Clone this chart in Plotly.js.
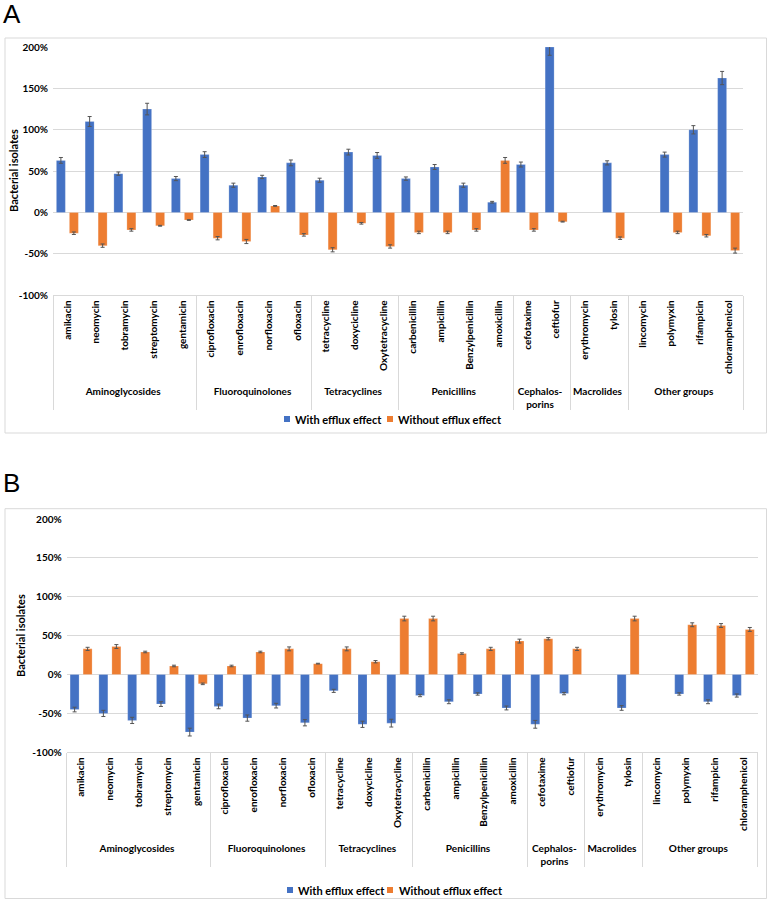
<!DOCTYPE html>
<html>
<head>
<meta charset="utf-8">
<script src="https://cdn.plot.ly/plotly-3.0.1.min.js"></script>
<style>
  html, body { margin: 0; padding: 0; background: #ffffff; }
  #chart { width: 768px; height: 899px; }
</style>
</head>
<body>
<div id="chart"></div>
<script>
// Antibiotic classes and drugs (one group entry per drug)
const drugs = [
  'amikacin', 'neomycin', 'tobramycin', 'streptomycin', 'gentamicin',
  'ciprofloxacin', 'enrofloxacin', 'norfloxacin', 'ofloxacin',
  'tetracycline', 'doxycicline', 'Oxytetracycline',
  'carbenicillin', 'ampicillin', 'Benzylpenicillin', 'amoxicillin',
  'cefotaxime', 'ceftiofur',
  'erythromycin', 'tylosin',
  'lincomycin', 'polymyxin', 'rifampicin', 'chloramphenicol'
];
const drugGroups = [
  'Aminoglycosides', 'Aminoglycosides', 'Aminoglycosides', 'Aminoglycosides', 'Aminoglycosides',
  'Fluoroquinolones', 'Fluoroquinolones', 'Fluoroquinolones', 'Fluoroquinolones',
  'Tetracyclines', 'Tetracyclines', 'Tetracyclines',
  'Penicillins', 'Penicillins', 'Penicillins', 'Penicillins',
  'Cephalos-<br>porins', 'Cephalos-<br>porins',
  'Macrolides', 'Macrolides',
  'Other groups', 'Other groups', 'Other groups', 'Other groups'
];

// Panel A values (%); null = no bar
const aWith = [63, 110, 47, 125, 41, 70, 33, 43, 60, 39, 73, 69, 41, 55, 33, 12.5, 58, 200, null, 60, null, 70, 100, 162.5];
const aWithErr = [3.5, 6, 2, 7, 2.5, 3.5, 2.5, 2, 3.5, 2.5, 3.5, 3.5, 2, 3, 2.5, 1, 3, 10, null, 2.5, null, 3, 5, 8];
const aWithout = [-25, -40, -21, -16, -9, -31, -35, 8, -27, -45, -13, -41, -24, -24, -21, 63, -21, -11, null, -31, null, -24, -28, -46];
const aWithoutErr = [1.5, 2, 1.5, 0.5, 0.5, 2, 2.5, 0.5, 1.5, 2.5, 1, 2, 1.5, 1.5, 1.5, 3.5, 1.5, 0.5, null, 1.5, null, 1.5, 1.5, 3];

// Panel B values (%); null = no bar
const bWith = [-45, -50, -59, -38, -74, -41, -56, -40, -62, -21, -64, -62.5, -27, -35, -25, -43, -64, -24.5, null, -43, null, -25, -35, -27];
const bWithErr = [3, 4, 4, 3, 5, 3, 4, 3, 4, 2, 4, 5, 1.5, 2.5, 1.5, 2.5, 5, 1.5, null, 3, null, 1.5, 2.5, 2];
const bWithout = [33, 36, 29, 11, -12, 11, 29, 33, 14, 33, 16.5, 72, 72, 27, 33, 43, 46, 33, null, 72, null, 64, 63, 58];
const bWithoutErr = [2, 2.5, 1, 1, 1, 1, 1, 2.5, 0.5, 2.5, 1.5, 3, 3, 1, 2, 2.5, 1.5, 2, null, 3, null, 2.5, 2.5, 2.5];

// Series names and y ticks
const seriesNames = ['With efflux effect', 'Without efflux effect'];
const yTickVals = [-100, -50, 0, 50, 100, 150, 200];
const yTickText = ['-100%', '-50%', '0%', '50%', '100%', '150%', '200%'];

const BLUE = '#4472C4';
const ORANGE = '#ED7D31';
const GRID = '#d9d9d9';
const FONT = 'Lato, "Open Sans", sans-serif';
const W = 768, H = 899;

function bar(y, err, name, color, xa, ya) {
  return {
    type: 'bar',
    x: [drugGroups, drugs],
    y: y,
    name: name,
    xaxis: xa, yaxis: ya,
    showlegend: false,
    marker: { color: color, line: { color: 'rgba(255,255,255,0.35)', width: 0.6 } },
    error_y: { type: 'data', array: err, visible: true, color: '#555555', thickness: 1, width: 2 },
    hoverinfo: 'skip'
  };
}

const traces = [
  bar(aWith, aWithErr, seriesNames[0], BLUE, 'x', 'y'),
  bar(aWithout, aWithoutErr, seriesNames[1], ORANGE, 'x', 'y'),
  bar(bWith, bWithErr, seriesNames[0], BLUE, 'x2', 'y2'),
  bar(bWithout, bWithoutErr, seriesNames[1], ORANGE, 'x2', 'y2')
];

// pixel helpers for paper coordinates
const px = v => v / W;
const py = v => 1 - v / H;

function xAxis(domain) {
  return {
    type: 'multicategory',
    domain: domain,
    tickangle: -90,
    tickfont: { family: FONT, size: 10, color: '#000000', weight: 'bold' },
    showline: true, linecolor: GRID, linewidth: 1,
    showdividers: true, dividercolor: GRID, dividerwidth: 1,
    ticks: '', showgrid: false, zeroline: false, fixedrange: true
  };
}
function yAxis(domain, anchor) {
  return {
    domain: domain,
    anchor: anchor,
    range: [-100, 200],
    tickmode: 'array', tickvals: yTickVals, ticktext: yTickText,
    tickfont: { family: FONT, size: 10, color: '#000000', weight: 'bold' },
    showgrid: true, gridcolor: GRID, gridwidth: 1,
    zeroline: true, zerolinecolor: GRID, zerolinewidth: 1,
    showline: false, ticks: '', ticklabelstandoff: 4, fixedrange: true
  };
}

// Compact legend: small coloured squares with bold labels under each panel
const legendSpots = [
  { y: 419, sq: [284, 387], tx: [293, 396] },
  { y: 890, sq: [287, 387], tx: [296, 397] }
];
const legendShapes = [];
const legendNotes = [];
legendSpots.forEach(spot => {
  [BLUE, ORANGE].forEach((c, i) => {
    legendShapes.push({
      type: 'rect', xref: 'paper', yref: 'paper',
      x0: px(spot.sq[i]), x1: px(spot.sq[i] + 6), y0: py(spot.y + 3), y1: py(spot.y - 3),
      fillcolor: c, line: { width: 0 }
    });
    legendNotes.push({
      text: seriesNames[i], xref: 'paper', yref: 'paper', x: px(spot.tx[i]), y: py(spot.y),
      xanchor: 'left', yanchor: 'middle', showarrow: false,
      font: { family: FONT, size: 11, color: '#000', weight: 'bold' }
    });
  });
});

const layout = {
  width: W, height: H,
  margin: { l: 0, r: 0, t: 0, b: 0, pad: 0 },
  paper_bgcolor: '#ffffff', plot_bgcolor: '#ffffff',
  barmode: 'group', bargap: 0.096, bargroupgap: 0.31,
  font: { family: FONT, color: '#000000' },
  showlegend: false,
  xaxis: Object.assign(xAxis([px(53), px(743)]), { anchor: 'y' }),
  yaxis: yAxis([py(295.3), py(47)], 'x'),
  xaxis2: Object.assign(xAxis([px(66.7), px(757.7)]), { anchor: 'y2' }),
  yaxis2: yAxis([py(752.3), py(519)], 'x2'),
  shapes: [
    { type: 'rect', xref: 'paper', yref: 'paper', x0: px(5), x1: px(766.5), y0: py(433), y1: py(38),
      line: { color: GRID, width: 1 }, layer: 'below' },
    { type: 'rect', xref: 'paper', yref: 'paper', x0: px(5), x1: px(766.5), y0: py(898.5), y1: py(508.7),
      line: { color: GRID, width: 1 }, layer: 'below' }
  ].concat(legendShapes),
  annotations: [
    { text: 'A', xref: 'paper', yref: 'paper', x: px(1), y: py(14), xanchor: 'left', yanchor: 'middle',
      showarrow: false, font: { family: 'Liberation Sans, Arial, sans-serif', size: 26, color: '#000' } },
    { text: 'B', xref: 'paper', yref: 'paper', x: px(1), y: py(483), xanchor: 'left', yanchor: 'middle',
      showarrow: false, font: { family: 'Liberation Sans, Arial, sans-serif', size: 26, color: '#000' } },
    { text: 'Bacterial isolates', xref: 'paper', yref: 'paper', x: px(13), y: py(171), textangle: -90,
      xanchor: 'center', yanchor: 'middle', showarrow: false,
      font: { family: FONT, size: 11, color: '#000', weight: 'bold' } },
    { text: 'Bacterial isolates', xref: 'paper', yref: 'paper', x: px(20), y: py(636), textangle: -90,
      xanchor: 'center', yanchor: 'middle', showarrow: false,
      font: { family: FONT, size: 11, color: '#000', weight: 'bold' } }
  ].concat(legendNotes)
};

Plotly.newPlot('chart', traces, layout, { displayModeBar: false, staticPlot: true });
</script>
</body>
</html>
